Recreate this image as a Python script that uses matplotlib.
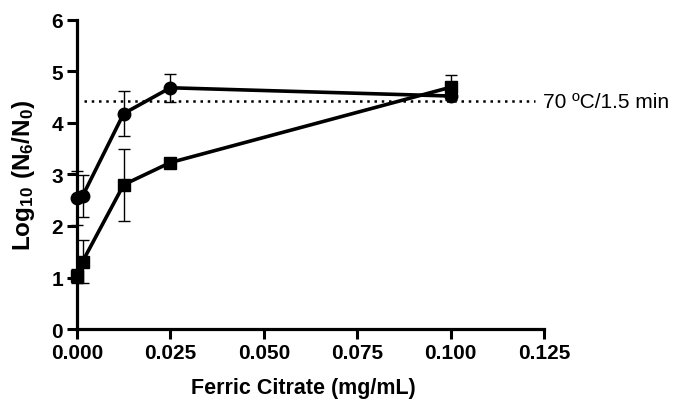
import matplotlib
matplotlib.use("Agg")
import matplotlib.pyplot as plt

plt.rcParams['font.family'] = ['Liberation Sans', 'DejaVu Sans']
plt.rcParams['mathtext.fontset'] = 'custom'
plt.rcParams['mathtext.rm'] = 'Liberation Sans'
plt.rcParams['mathtext.bf'] = 'Liberation Sans:bold'

# Data
circle_x = [0.0, 0.0015, 0.0125, 0.025, 0.1]
circle_y = [2.54, 2.58, 4.18, 4.68, 4.52]
circle_err = [0.52, 0.40, 0.44, 0.27, 0.0]

square_x = [0.0, 0.0015, 0.0125, 0.025, 0.1]
square_y = [1.03, 1.31, 2.80, 3.23, 4.69]
square_err = [0.14, 0.41, 0.70, 0.0, 0.24]

threshold = 4.42
threshold_label = "70 ºC/1.5 min"
xticks = [0.0, 0.025, 0.05, 0.075, 0.1, 0.125]
xtick_labels = ["0.000", "0.025", "0.050", "0.075", "0.100", "0.125"]
yticks = [0, 1, 2, 3, 4, 5, 6]

fig = plt.figure(figsize=(6.74, 4.06), dpi=100)
ax = fig.add_axes([0.1142, 0.187, 0.693, 0.762])

ax.plot([0.002, 0.1225], [threshold, threshold], color='black', linestyle=(0, (1, 1.9)),
        linewidth=1.8, clip_on=False, zorder=1)
ax.text(0.1247, threshold, threshold_label, fontsize=15, va='center', ha='left')

ax.errorbar(circle_x, circle_y, yerr=circle_err, fmt='-o', color='black', markersize=9,
            linewidth=2.6, elinewidth=1.0, capsize=4.5, capthick=1.0, clip_on=False, zorder=3)
ax.errorbar(square_x, square_y, yerr=square_err, fmt='-s', color='black', markersize=9,
            linewidth=2.6, elinewidth=1.0, capsize=4.5, capthick=1.0, clip_on=False, zorder=3)

ax.set_xlim(0, 0.125)
ax.set_ylim(0, 6)
ax.set_xticks(xticks)
ax.set_xticklabels(xtick_labels)
ax.set_yticks(yticks)
for s in ['top', 'right']:
    ax.spines[s].set_visible(False)
for s in ['left', 'bottom']:
    ax.spines[s].set_linewidth(2.3)
ax.tick_params(width=2.2, length=7, labelsize=15, pad=3)
for lab in ax.get_xticklabels() + ax.get_yticklabels():
    lab.set_fontweight('bold')

ax.set_xlabel("Ferric Citrate (mg/mL)", fontsize=15.5, fontweight='bold', labelpad=10)
ax.xaxis.set_label_coords(0.485, -0.155)
ax.set_ylabel("$\\mathbf{Log_{10}\\ (N_6/N_0)}$", fontsize=17.5, labelpad=10)

fig.savefig("out.png", dpi=100)
